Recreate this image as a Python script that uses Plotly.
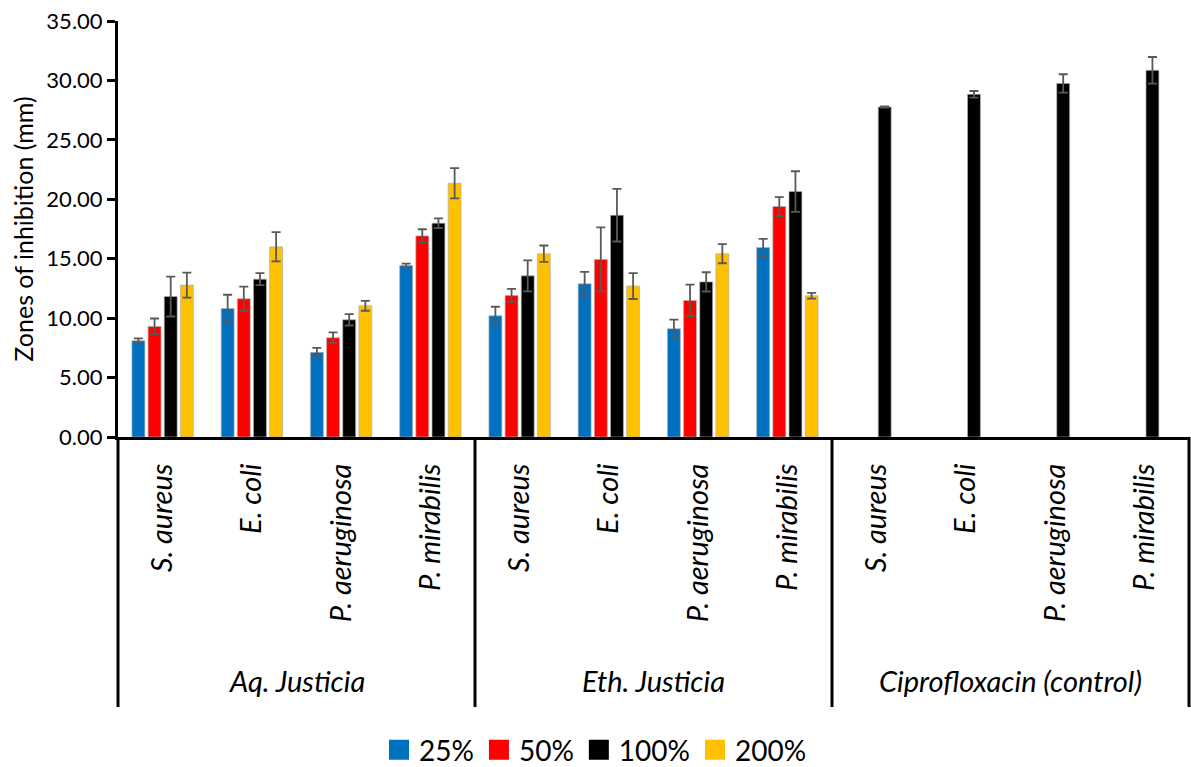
import plotly.graph_objects as go

# Extract groups and test organisms
groups = ["Aq. Justicia", "Eth. Justicia", "Ciprofloxacin (control)"]
organisms = ["S. aureus", "E. coli", "P. aeruginosa", "P. mirabilis"]

# Mean zones of inhibition (mm), one list per concentration, 12 entries (3 groups x 4 organisms)
conc_labels = ["25%", "50%", "100%", "200%"]
zone_25 = [8.10, 10.81, 7.12, 14.43, 10.20, 12.89, 9.11, 15.94, None, None, None, None]
zone_50 = [9.30, 11.63, 8.35, 16.92, 11.90, 14.94, 11.49, 19.39, None, None, None, None]
zone_100 = [11.82, 13.28, 9.86, 17.99, 13.56, 18.66, 13.05, 20.65, 27.77, 28.83, 29.75, 30.85]
zone_200 = [12.78, 16.00, 11.04, 21.35, 15.42, 12.70, 15.42, 11.88, None, None, None, None]

# Standard deviations
sd_25 = [0.20, 1.16, 0.38, 0.15, 0.76, 1.01, 0.77, 0.73, None, None, None, None]
sd_50 = [0.67, 1.02, 0.46, 0.56, 0.56, 2.69, 1.33, 0.80, None, None, None, None]
sd_100 = [1.68, 0.50, 0.48, 0.41, 1.30, 2.21, 0.81, 1.71, 0.05, 0.28, 0.77, 1.12]
sd_200 = [1.05, 1.23, 0.42, 1.27, 0.69, 1.09, 0.80, 0.24, None, None, None, None]

colors = ["#0070C0", "#FF0000", "#000000", "#FFC000"]

series = [zone_25, zone_50, zone_100, zone_200]
errors = [sd_25, sd_50, sd_100, sd_200]

n_cat = len(groups) * len(organisms)
x_pos = list(range(n_cat))
tick_text = organisms * len(groups)

FONT = "Lato"

fig = go.Figure()
for label, vals, sds, col in zip(conc_labels, series, errors, colors):
    fig.add_trace(go.Bar(
        x=x_pos, y=vals, name=label,
        marker=dict(color=col, line=dict(color="#b0b0b0", width=0.7)),
        error_y=dict(type="data", array=[e if e is not None else 0 for e in sds],
                     color="#595959", thickness=1.8, width=4.5, visible=True),
        showlegend=False,
    ))
    # legend swatch
    fig.add_trace(go.Scatter(
        x=[None], y=[None], mode="markers", name=label,
        marker=dict(symbol="square", size=16, color=col, line=dict(color=col, width=4)),
        showlegend=True,
    ))

shapes = []
# vertical separators below the axis, between the extract groups
for k in range(len(groups) + 1):
    shapes.append(dict(type="line", xref="paper", yref="paper",
                       x0=k / len(groups), x1=k / len(groups), y0=0, y1=-0.649,
                       line=dict(color="black", width=3)))

annotations = []
for gi, g in enumerate(groups):
    annotations.append(dict(
        x=gi * len(organisms) + (len(organisms) - 1) / 2, xref="x",
        y=-0.585, yref="paper", text=g, showarrow=False,
        xanchor="center", yanchor="middle",
        font=dict(family=FONT, size=29, color="black", style="italic"),
    ))

fig.update_layout(
    width=1191, height=767,
    margin=dict(l=118, r=2, t=21, b=330, autoexpand=False),
    paper_bgcolor="white", plot_bgcolor="white",
    barmode="group", bargap=0.276, bargroupgap=0.2,
    font=dict(family=FONT, color="black"),
    shapes=shapes, annotations=annotations,
    legend=dict(orientation="h", xref="container", yref="container",
                x=0.5, y=0.022, xanchor="center", yanchor="middle",
                font=dict(family=FONT, size=28, color="black"),
                itemwidth=30, tracegroupgap=0),
    xaxis=dict(
        range=[-0.5, n_cat - 0.5], tickmode="array", tickvals=x_pos, ticktext=tick_text,
        tickangle=-90, tickfont=dict(family=FONT, size=29, color="black", style="italic"),
        showline=True, linecolor="black", linewidth=3, ticks="", showgrid=False,
        zeroline=False, ticklabelstandoff=12, automargin=False,
    ),
    yaxis=dict(
        range=[0, 35], dtick=5, tickformat=".2f",
        tickfont=dict(family=FONT, size=22, color="black"),
        showline=True, linecolor="black", linewidth=3,
        ticks="outside", ticklen=8, tickwidth=3, tickcolor="black",
        showgrid=False, zeroline=False, automargin=False,
        title=dict(text="Zones of inhibition (mm)", standoff=6,
                   font=dict(family=FONT, size=25, color="black")),
    ),
)

fig.write_html("out.html")
